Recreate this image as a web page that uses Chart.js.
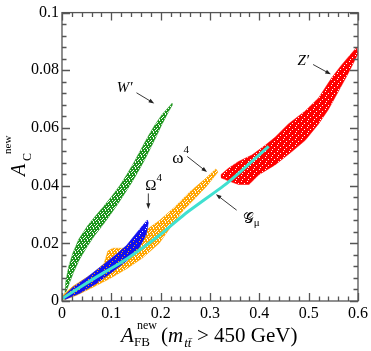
<!doctype html>
<html>
<head>
<meta charset="utf-8">
<title>A_C vs A_FB</title>
<script src="https://cdn.jsdelivr.net/npm/chart.js@4.4.0/dist/chart.umd.min.js"></script>
<style>
  html, body { margin: 0; padding: 0; background: #fff; }
</style>
</head>
<body>
<canvas id="chart" width="371" height="351"></canvas>
<script>
  // band outlines: x = A_FB^new, y = A_C^new
  // (upper edge first, then back along the lower edge)
  const wX = [0.006, 0.008, 0.014, 0.022, 0.034, 0.052, 0.068, 0.085, 0.101, 0.117, 0.131, 0.145, 0.159, 0.173, 0.187, 0.203, 0.223,
              0.223, 0.213, 0.201, 0.191, 0.179, 0.167, 0.155, 0.141, 0.127, 0.113, 0.099, 0.083, 0.066, 0.050, 0.036, 0.024, 0.014, 0.008];
  const wY = [0.0024, 0.0071, 0.0122, 0.0166, 0.0214, 0.0261, 0.0295, 0.0329, 0.0363, 0.0400, 0.0437, 0.0478, 0.0522, 0.0566, 0.0607, 0.0647, 0.0685,
              0.0678, 0.0647, 0.0607, 0.0570, 0.0529, 0.0488, 0.0451, 0.0410, 0.0373, 0.0336, 0.0302, 0.0264, 0.0227, 0.0186, 0.0146, 0.0102, 0.0058, 0.0031];

  const omegaX = [0.000, 0.022, 0.062, 0.085, 0.093, 0.103, 0.127, 0.157, 0.177, 0.197, 0.228, 0.260, 0.288, 0.312,
                  0.316, 0.294, 0.268, 0.246, 0.228, 0.197, 0.163, 0.131, 0.097, 0.062, 0.030, 0.002];
  const omegaY = [0.0017, 0.0051, 0.0095, 0.0129, 0.0173, 0.0183, 0.0183, 0.0227, 0.0254, 0.0278, 0.0325, 0.0380, 0.0420, 0.0458,
                  0.0447, 0.0400, 0.0353, 0.0315, 0.0275, 0.0200, 0.0149, 0.0112, 0.0078, 0.0047, 0.0020, 0.0003];

  const bigOmegaX = [0.002, 0.022, 0.050, 0.083, 0.111, 0.131, 0.147, 0.163, 0.173,
                     0.175, 0.171, 0.157, 0.131, 0.103, 0.070, 0.036, 0.006];
  const bigOmegaY = [0.0014, 0.0047, 0.0081, 0.0125, 0.0163, 0.0193, 0.0227, 0.0261, 0.0281,
                     0.0271, 0.0231, 0.0186, 0.0139, 0.0102, 0.0061, 0.0027, 0.0005];

  const zX = [0.322, 0.338, 0.358, 0.385, 0.412, 0.432, 0.459, 0.493, 0.520, 0.546, 0.566, 0.597,
              0.600, 0.580, 0.560, 0.540, 0.520, 0.493, 0.466, 0.432, 0.399, 0.379, 0.358, 0.338, 0.322];
  const zY = [0.0438, 0.0461, 0.0484, 0.0506, 0.0540, 0.0568, 0.0614, 0.0659, 0.0704, 0.0772, 0.0817, 0.0879,
              0.0857, 0.0789, 0.0726, 0.0664, 0.0614, 0.0557, 0.0518, 0.0472, 0.0438, 0.0404, 0.0404, 0.0416, 0.0427];

  // G_mu is a single curve
  const gX = [0.000, 0.062, 0.131, 0.197, 0.248, 0.328, 0.362, 0.419];
  const gY = [0.0008, 0.0075, 0.0146, 0.0227, 0.0300, 0.0400, 0.0449, 0.0536];

  const xTicks = [0, 0.1, 0.2, 0.3, 0.4, 0.5, 0.6];
  const yTicks = [0, 0.02, 0.04, 0.06, 0.08, 0.1];

  const pts = (xs, ys) => xs.map((x, i) => ({x: x, y: ys[i]}));

  // speckled fill so the bands look like dense point clouds
  function speckle(color, gaps) {
    const c = document.createElement('canvas');
    c.width = 6; c.height = 6;
    const g = c.getContext('2d');
    g.fillStyle = color;
    g.fillRect(0, 0, 6, 6);
    gaps.forEach(p => g.clearRect(p[0], p[1], 1, 1));
    return g.createPattern(c, 'repeat');
  }
  const sparse = [[0,0],[3,0],[1,2],[4,2],[2,4],[5,4],[0,3],[3,5]];
  const dense = [[1,1],[4,3],[2,5]];

  function band(xs, ys, color, gaps, order) {
    return {
      data: pts(xs, ys),
      showLine: true,
      fill: 'shape',
      backgroundColor: speckle(color, gaps),
      borderColor: color,
      borderWidth: 0.5,
      pointRadius: 0,
      order: order
    };
  }

  const frameTicks = {
    id: 'frameTicks',
    afterDatasetsDraw(chart) {
      const {ctx, chartArea: a, scales: {x, y}} = chart;
      ctx.save();
      ctx.strokeStyle = '#555';
      ctx.lineWidth = 1.3;
      ctx.strokeRect(a.left, a.top, a.right - a.left, a.bottom - a.top);
      ctx.beginPath();
      for (let i = 0; i <= 30; i++) {
        const px = Math.round(x.getPixelForValue(i * 0.02)) + 0.5;
        const len = i % 5 === 0 ? 8 : 4.5;
        ctx.moveTo(px, a.bottom); ctx.lineTo(px, a.bottom - len);
        ctx.moveTo(px, a.top); ctx.lineTo(px, a.top + len);
      }
      for (let i = 0; i <= 25; i++) {
        const py = Math.round(y.getPixelForValue(i * 0.004)) + 0.5;
        const len = i % 5 === 0 ? 8 : 4.5;
        ctx.moveTo(a.left, py); ctx.lineTo(a.left + len, py);
        ctx.moveTo(a.right, py); ctx.lineTo(a.right - len, py);
      }
      ctx.stroke();
      ctx.restore();
    }
  };

  const serif = '"Liberation Serif", "Times New Roman", serif';

  const labels = {
    id: 'labels',
    afterDraw(chart) {
      const {ctx, scales: {x, y}} = chart;
      ctx.save();
      ctx.fillStyle = '#000';
      ctx.textBaseline = 'alphabetic';

      const put = (txt, font, px, py, align) => {
        ctx.font = font;
        ctx.textAlign = align || 'left';
        ctx.fillText(txt, px, py);
        return px + ctx.measureText(txt).width;
      };

      // x title
      put('A', 'italic 21px ' + serif, 121, 342);
      put('FB', '13px ' + serif, 134, 346);
      put('new', '12px ' + serif, 137, 329);
      let cx = put('(', '21px ' + serif, 161, 342);
      cx = put('m', 'italic 21px ' + serif, cx, 342);
      put('tt\u0304', 'italic 13px ' + serif, cx + 1, 347);
      put('> 450 GeV)', '21px ' + serif, 197, 342);

      // y title (rotated)
      ctx.save();
      ctx.translate(25, 176);
      ctx.rotate(-Math.PI / 2);
      put('A', 'italic 20px ' + serif, 0, 0);
      put('C', '12px ' + serif, 15, 6);
      put('new', '11px ' + serif, 22, -14);
      ctx.restore();

      // model labels
      const at = (vx, vy) => [x.getPixelForValue(vx), y.getPixelForValue(vy)];
      let p = at(0.1268, 0.0742);
      put('W\u2032', 'italic 15px ' + serif, p[0], p[1] + 5, 'center');
      p = at(0.2336, 0.0495);
      cx = put('\u03c9', '17px ' + serif, p[0] - 5, p[1] + 5);
      put('4', '11px ' + serif, cx, p[1] - 5);
      p = at(0.179, 0.0403);
      cx = put('\u03a9', '15px ' + serif, p[0] - 5, p[1] + 5);
      put('4', '11px ' + serif, cx, p[1] - 4);
      p = at(0.489, 0.0837);
      put('Z\u2032', 'italic 15px ' + serif, p[0], p[1] + 5, 'center');
      p = at(0.3765, 0.0288);
      cx = put('\ud835\udca2', '15px ' + serif, p[0] - 5, p[1] + 5);
      put('\u03bc', '11px ' + serif, cx, p[1] + 8);

      // arrows
      const arrow = (x0, y0, x1, y1) => {
        const a = at(x0, y0), b = at(x1, y1);
        const ang = Math.atan2(b[1] - a[1], b[0] - a[0]);
        ctx.strokeStyle = '#222';
        ctx.lineWidth = 0.9;
        ctx.beginPath();
        ctx.moveTo(a[0], a[1]);
        ctx.lineTo(b[0] - 3 * Math.cos(ang), b[1] - 3 * Math.sin(ang));
        ctx.stroke();
        ctx.fillStyle = '#222';
        ctx.beginPath();
        ctx.moveTo(b[0], b[1]);
        ctx.lineTo(b[0] - 6 * Math.cos(ang - 0.35), b[1] - 6 * Math.sin(ang - 0.35));
        ctx.lineTo(b[0] - 6 * Math.cos(ang + 0.35), b[1] - 6 * Math.sin(ang + 0.35));
        ctx.closePath();
        ctx.fill();
      };
      arrow(0.151, 0.0722, 0.187, 0.0685);
      arrow(0.254, 0.0501, 0.294, 0.0447);
      arrow(0.175, 0.0373, 0.175, 0.0319);
      arrow(0.509, 0.0820, 0.545, 0.0786);
      arrow(0.354, 0.0315, 0.312, 0.0370);
      ctx.restore();
    }
  };

  const fmt = v => String(Math.round(v * 1000) / 1000);

  new Chart(document.getElementById('chart'), {
    type: 'scatter',
    data: {
      datasets: [
        {
          data: pts(gX, gY),
          showLine: true,
          fill: false,
          borderColor: '#40e0d0',
          borderWidth: 3,
          tension: 0.2,
          pointRadius: 0,
          order: 0
        },
        band(bigOmegaX, bigOmegaY, '#1010f0', dense, 1),
        band(zX, zY, '#ff0000', dense, 2),
        band(omegaX, omegaY, '#ffa500', sparse, 3),
        band(wX, wY, '#1e961e', sparse, 4)
      ]
    },
    options: {
      responsive: false,
      animation: false,
      layout: { autoPadding: false, padding: { top: 6, right: 11, left: 0, bottom: 0 } },
      plugins: { legend: { display: false }, tooltip: { enabled: false } },
      scales: {
        x: {
          type: 'linear', min: 0, max: 0.6,
          afterFit: s => { s.height = 50; },
          afterBuildTicks: s => { s.ticks = xTicks.map(v => ({value: v})); },
          grid: { display: false, drawTicks: false },
          border: { display: false },
          ticks: { padding: 3, color: '#000', font: { family: serif, size: 16 }, callback: fmt, maxRotation: 0 }
        },
        y: {
          type: 'linear', min: 0, max: 0.1,
          afterFit: s => { s.width = 62; },
          afterBuildTicks: s => { s.ticks = yTicks.map(v => ({value: v})); },
          grid: { display: false, drawTicks: false },
          border: { display: false },
          ticks: { padding: 3, color: '#000', font: { family: serif, size: 16 }, callback: fmt }
        }
      }
    },
    plugins: [frameTicks, labels]
  });
</script>
</body>
</html>
